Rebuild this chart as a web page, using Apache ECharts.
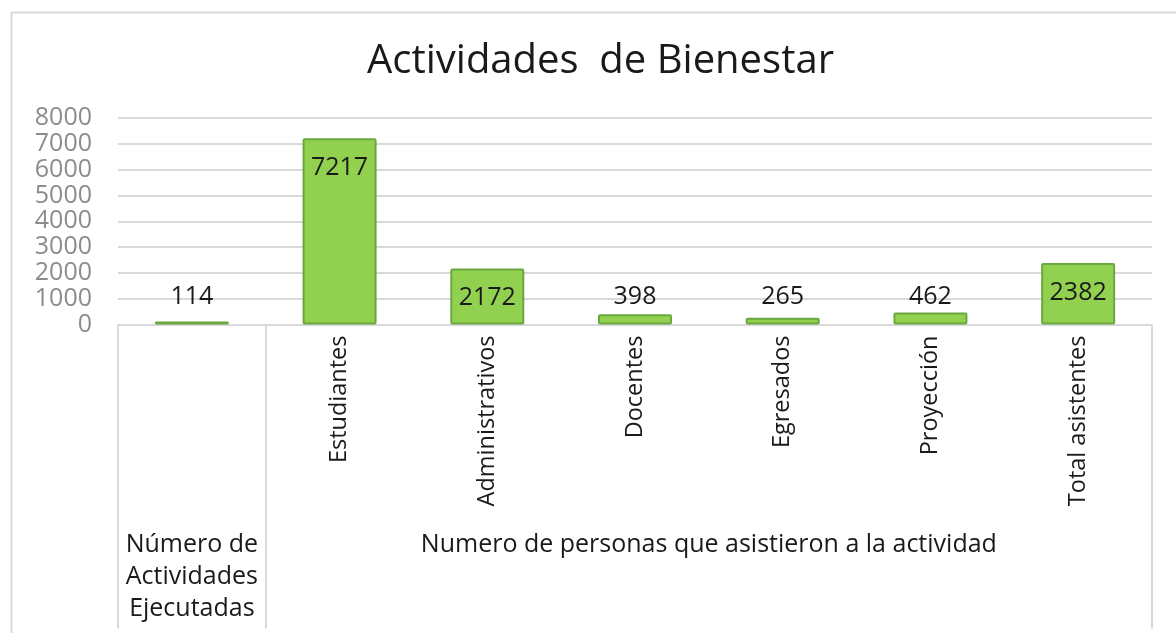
<!DOCTYPE html>
<html>
<head>
<meta charset="utf-8">
<title>Actividades de Bienestar</title>
<script src="https://cdn.jsdelivr.net/npm/echarts@6/dist/echarts.min.js"></script>
<style>
  html, body { margin: 0; padding: 0; background: #ffffff; }
  #chart { width: 1176px; height: 633px; }
</style>
</head>
<body>
<div id="chart"></div>
<script>
// Column categories (first one has no sub-label of its own)
const categories = ['', 'Estudiantes', 'Administrativos', 'Docentes', 'Egresados', 'Proyección', 'Total asistentes'];
// Values per column
const values = [114, 7217, 2172, 398, 265, 462, 2382];
// Group labels under the columns and the column index at each group centre
const groupLabels = ['Número de\nActividades\nEjecutadas', 'Numero de personas que asistieron a la actividad'];
const groupCenters = [0, 3.5];
// Group boundaries (in column-index units)
const groupBounds = [-0.5, 0.5, 6.5];

const FONT = '"Open Sans", "Noto Sans", sans-serif';
const GRID_LINE = '#d9d9d9';

// Big columns carry their label inside the top, small ones above the axis
const barData = values.map(v => ({
  value: v,
  label: v > 1000
    ? { position: 'insideTop', distance: 17 }
    : { position: 'insideBottom', distance: 15 }
}));

const chart = echarts.init(document.getElementById('chart'), null, { renderer: 'canvas' });

chart.setOption({
  animation: false,
  backgroundColor: '#ffffff',
  textStyle: { fontFamily: FONT },
  title: {
    text: 'Actividades  de Bienestar',
    left: 362,
    top: 37,
    textStyle: { fontFamily: FONT, fontSize: 40, fontWeight: 'normal', color: '#1a1a1a' }
  },
  graphic: [{
    type: 'rect',
    left: 9, top: 10,
    shape: { width: 1300, height: 800 },
    style: { fill: 'none', stroke: GRID_LINE, lineWidth: 2 },
    silent: true
  }],
  grid: { left: 118, right: 24, top: 118, bottom: 308.5, containLabel: false },
  xAxis: [{
    type: 'category',
    position: 'bottom',
    data: categories,
    axisLine: { show: true, lineStyle: { color: GRID_LINE, width: 2 } },
    axisTick: { show: false },
    axisLabel: {
      rotate: 90,
      margin: 11,
      interval: 0,
      fontFamily: FONT,
      fontSize: 23.5,
      color: '#1a1a1a'
    }
  }, {
    type: 'value',
    position: 'bottom',
    min: -0.5,
    max: 6.5,
    axisLine: { show: false },
    splitLine: { show: false },
    axisTick: {
      show: true,
      customValues: groupBounds,
      length: 304,
      lineStyle: { color: GRID_LINE, width: 2 }
    },
    axisLabel: {
      show: true,
      customValues: groupCenters,
      margin: 204,
      verticalAlign: 'top',
      align: 'center',
      fontFamily: FONT,
      fontSize: 25,
      lineHeight: 32,
      color: '#1a1a1a',
      formatter: v => groupLabels[groupCenters.indexOf(v)] || ''
    }
  }],
  yAxis: {
    type: 'value',
    min: 0,
    max: 8000,
    interval: 1000,
    axisLine: { show: false },
    axisTick: { show: false },
    axisLabel: {
      margin: 26,
      fontFamily: FONT,
      fontSize: 25,
      color: '#8c8c8c',
      formatter: v => String(v)
    },
    splitLine: { lineStyle: { color: GRID_LINE, width: 2 } }
  },
  series: [{
    type: 'bar',
    xAxisIndex: 0,
    data: barData,
    barWidth: 74,
    itemStyle: { color: '#92d050', borderColor: '#6aa83e', borderWidth: 2, borderRadius: 1 },
    label: {
      show: true,
      fontFamily: FONT,
      fontSize: 25,
      color: '#1a1a1a'
    }
  }]
});
</script>
</body>
</html>
